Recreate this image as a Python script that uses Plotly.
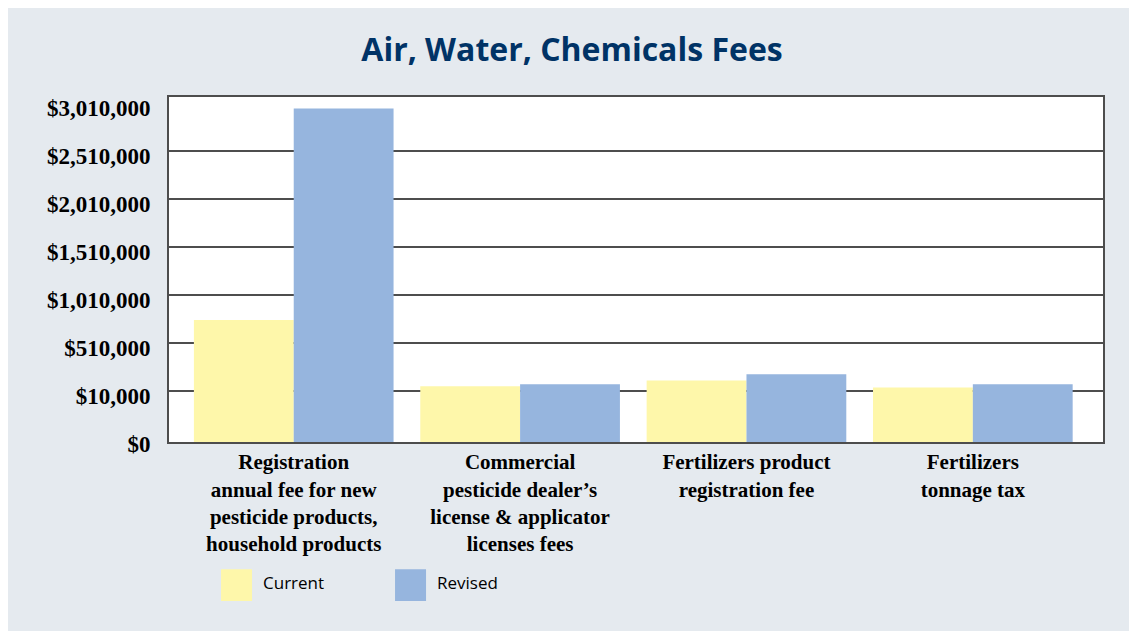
"""Air, Water, Chemicals Fees — grouped bar chart (current vs revised)."""

import plotly.graph_objects as go

CATEGORIES = [
    "Registration<br>annual fee for new<br>pesticide products,<br>household products",
    "Commercial<br>pesticide dealer’s<br>license & applicator<br>licenses fees",
    "Fertilizers product<br>registration fee",
    "Fertilizers<br>tonnage tax",
]
CURRENT = [750_000, 59_000, 121_000, 48_000]
REVISED = [2_955_000, 80_000, 184_000, 80_000]

TICK_VALUES = [-490_000, 10_000, 510_000, 1_010_000, 1_510_000, 2_010_000, 2_510_000, 3_010_000]
TICK_LABELS = ["$0", "$10,000", "$510,000", "$1,010,000", "$1,510,000",
               "$2,010,000", "$2,510,000", "$3,010,000"]
GRID_VALUES = TICK_VALUES[1:-1]

_Y_FLOOR = -521_000
_Y_TOP = 3_075_000

_CURRENT_COLOR = "#fef7aa"
_REVISED_COLOR = "#96b5de"
_PANEL_COLOR = "#e5eaef"
_LINE_COLOR = "#4d4d4d"
_TITLE_COLOR = "#003366"
_SERIF = "Liberation Serif"
_SANS = "Open Sans"


def _bar(name: str, values: list[int], color: str) -> go.Bar:
    # bars stand on the axis floor, like the original chart
    return go.Bar(
        x=CATEGORIES,
        y=[v - _Y_FLOOR for v in values],
        base=_Y_FLOOR,
        name=name,
        marker={"color": color, "line": {"width": 0}},
        showlegend=False,
        hovertemplate=f"{name}<br>%{{x}}<extra></extra>",
    )


fig = go.Figure([
    _bar("Current", CURRENT, _CURRENT_COLOR),
    _bar("Revised", REVISED, _REVISED_COLOR),
])

# hand-drawn legend with large square swatches
legend_items = [("Current", _CURRENT_COLOR, 0.0557), ("Revised", _REVISED_COLOR, 0.242)]
for label, color, x0 in legend_items:
    fig.add_shape(type="rect", xref="paper", yref="paper", x0=x0, x1=x0 + 0.0332,
                  y0=-0.461, y1=-0.369, fillcolor=color, line={"width": 0})
    fig.add_annotation(xref="paper", yref="paper", x=x0 + 0.0428, y=-0.407,
                       text=label, showarrow=False, xanchor="left", yanchor="middle",
                       font={"family": _SANS, "size": 17, "color": "black"})

fig.update_layout(
    width=1128,
    height=623,
    margin={"l": 161, "r": 33, "t": 89, "b": 189},
    paper_bgcolor=_PANEL_COLOR,
    plot_bgcolor="white",
    barmode="group",
    bargap=0.118,
    bargroupgap=0,
    title={
        "text": "<b>Air, Water, Chemicals Fees</b>",
        "x": 0.5,
        "xanchor": "center",
        "y": 0.9326,
        "yanchor": "middle",
        "font": {"family": _SANS, "size": 32, "color": _TITLE_COLOR},
    },
    xaxis={
        "range": [-0.551, 3.575],
        "showgrid": False,
        "showline": True,
        "linecolor": _LINE_COLOR,
        "linewidth": 2,
        "mirror": True,
        "ticks": "",
        "tickfont": {"family": _SERIF, "size": 21, "color": "black", "weight": "bold"},
    },
    yaxis={
        "range": [_Y_FLOOR, _Y_TOP],
        "tickmode": "array",
        "tickvals": TICK_VALUES,
        "ticktext": TICK_LABELS,
        "ticklabelshift": 5,
        "ticklabelstandoff": 12,
        "showgrid": False,
        "zeroline": False,
        "showline": True,
        "linecolor": _LINE_COLOR,
        "linewidth": 2,
        "mirror": True,
        "ticks": "",
        "tickfont": {"family": _SERIF, "size": 23, "color": "black", "weight": "bold"},
        "minor": {
            "tickmode": "array",
            "tickvals": GRID_VALUES,
            "showgrid": True,
            "gridcolor": _LINE_COLOR,
            "gridwidth": 2,
            "ticks": "",
        },
    },
)

fig.write_html("out.html")
